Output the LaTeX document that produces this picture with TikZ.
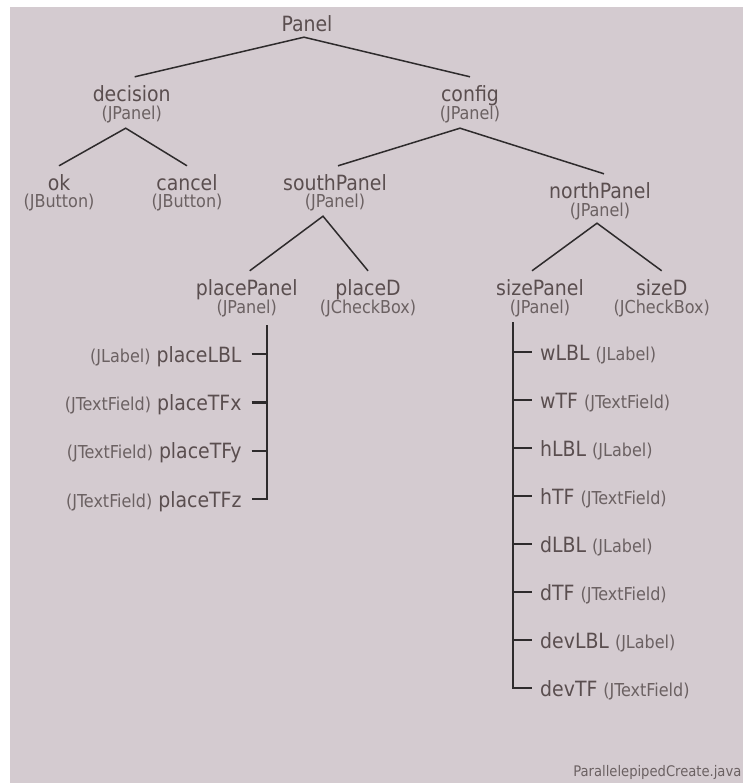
\documentclass[tikz,border=0pt]{standalone}
\usepackage{fontspec}
\setmainfont{DejaVu Sans Condensed}
\definecolor{bgc}{HTML}{D4CBD0}
\definecolor{namec}{HTML}{5A4E4F}
\definecolor{typec}{HTML}{6B6162}
\definecolor{linec}{HTML}{2E2B2C}
% component class written after / before a component name
\newcommand\ctype[1]{{\color{typec}\fontsize{17.8bp}{20bp}\selectfont #1}}
\begin{document}
\begin{tikzpicture}[x=1bp,y=-1bp,
  namebox/.style={anchor=base, inner sep=0pt, text height=24bp, text depth=0pt,
    text=namec, font=\fontsize{21bp}{24bp}\selectfont},
  typebox/.style={anchor=base, inner sep=0pt, text height=12bp, text depth=9bp,
    text=typec, font=\fontsize{17.8bp}{20bp}\selectfont},
  leftitem/.style={anchor=base east, inner sep=0pt, text height=16bp, text depth=0pt,
    text=namec, font=\fontsize{21bp}{24bp}\selectfont},
  rightitem/.style={anchor=base west, inner sep=0pt, text height=16bp, text depth=0pt,
    text=namec, font=\fontsize{21bp}{24bp}\selectfont},
  edge/.style={draw=linec, line width=1.5bp},
  trunk/.style={draw=linec, line width=2.2bp}]

\useasboundingbox (0,0) rectangle (744,783);
\fill[bgc] (10,6.7) rectangle (743,783);

% tree of containers
\node[namebox, text depth=5.5bp] (panel) at (307,31.5) {Panel};
\node[namebox] (decision) at (131.7,101) {decision};
\node[typebox] (decisionT) at (131.7,119) {(JPanel)};
\node[namebox] (config) at (470,101) {config};
\node[typebox] (configT) at (470,119) {(JPanel)};
\node[namebox] (ok) at (59,190) {ok};
\node[typebox] (okT) at (59,207) {(JButton)};
\node[namebox] (cancel) at (187,190) {cancel};
\node[typebox] (cancelT) at (187,207) {(JButton)};
\node[namebox] (south) at (335,190) {southPanel};
\node[typebox] (southT) at (335,207) {(JPanel)};
\node[namebox] (north) at (600,198) {northPanel};
\node[typebox] (northT) at (600,216) {(JPanel)};
\node[namebox] (placePanel) at (246.7,295) {placePanel};
\node[typebox] (placePanelT) at (246.7,313) {(JPanel)};
\node[namebox] (placeD) at (368,295) {placeD};
\node[typebox] (placeDT) at (368,313) {(JCheckBox)};
\node[namebox] (sizePanel) at (540,295) {sizePanel};
\node[typebox] (sizePanelT) at (540,313) {(JPanel)};
\node[namebox] (sizeD) at (661.7,295) {sizeD};
\node[typebox] (sizeDT) at (661.7,313) {(JCheckBox)};

\draw[edge] ([xshift=3bp]decision.north) -- ([xshift=-3bp]panel.south) -- (config.north);
\draw[edge] (ok.north) -- ([xshift=-6bp]decisionT.south) -- (cancel.north);
\draw[edge] ([xshift=3bp]south.north) -- ([xshift=-10bp]configT.south) -- ([xshift=4bp]north.north);
\draw[edge] ([xshift=3bp]placePanel.north) -- ([xshift=-12bp]southT.south) -- (placeD.north);
\draw[edge] ([xshift=-8bp]sizePanel.north) -- ([xshift=-3bp,yshift=2bp]northT.south) -- (sizeD.north);

% fields of placePanel
\node[leftitem] (placeLBL) at (241.7,362) {\ctype{(JLabel)} placeLBL};
\node[leftitem] (placeTFx) at (241.7,410.4) {\ctype{(JTextField)} placeTFx};
\node[leftitem] (placeTFy) at (241.7,458.8) {\ctype{(JTextField)} placeTFy};
\node[leftitem] (placeTFz) at (241.7,507.2) {\ctype{(JTextField)} placeTFz};
\coordinate (ltop) at ([xshift=20bp,yshift=-3bp]placePanelT.south);
\draw[trunk] (ltop) |- ([xshift=10bp]placeTFz.east);
\foreach \n in {placeLBL,placeTFx,placeTFy}
  \draw[trunk] ([xshift=10bp]\n.east) -- (\n.east -| ltop);

% fields of sizePanel
\node[rightitem] (wLBL) at (540,360) {wLBL \ctype{(JLabel)}};
\node[rightitem] (wTF) at (540,408) {wTF \ctype{(JTextField)}};
\node[rightitem] (hLBL) at (540,456) {hLBL \ctype{(JLabel)}};
\node[rightitem] (hTF) at (540,504) {hTF \ctype{(JTextField)}};
\node[rightitem] (dLBL) at (540,552) {dLBL \ctype{(JLabel)}};
\node[rightitem] (dTF) at (540,600) {dTF \ctype{(JTextField)}};
\node[rightitem] (devLBL) at (540,648) {devLBL \ctype{(JLabel)}};
\node[rightitem] (devTF) at (540,696) {devTF \ctype{(JTextField)}};
\coordinate (rtop) at ([xshift=-26.7bp]sizePanelT.south);
\draw[trunk] (rtop) |- ([xshift=-8.3bp]devTF.west);
\foreach \n in {wLBL,wTF,hLBL,hTF,dLBL,dTF,devLBL}
  \draw[trunk] ([xshift=-8.3bp]\n.west) -- (\n.west -| rtop);

\node[anchor=base east, inner sep=0pt, text=typec,
  font=\fontsize{14.6bp}{17bp}\selectfont] (file) at (741.5,776) {ParallelepipedCreate.java};
\end{tikzpicture}
\end{document}
